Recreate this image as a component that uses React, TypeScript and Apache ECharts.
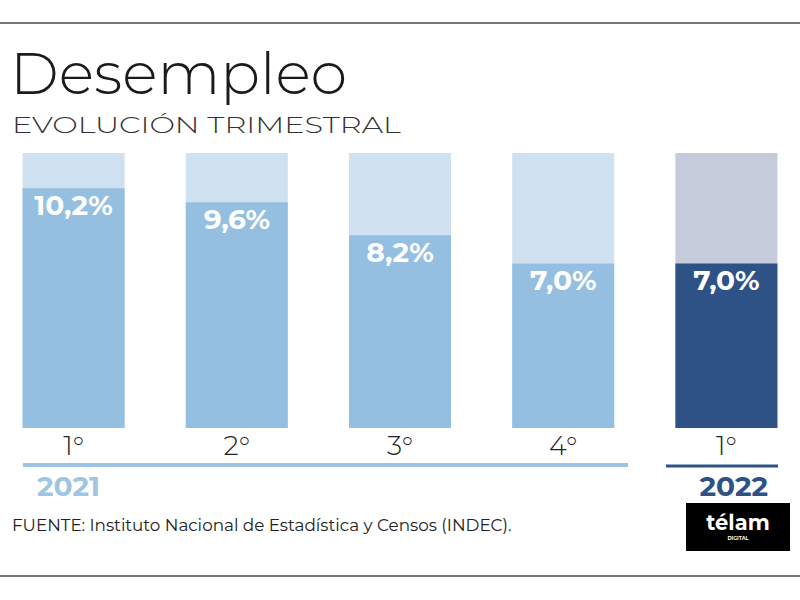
import React, { useEffect, useRef } from "react";
import * as echarts from "echarts";

const QUARTERS = ["1°", "2°", "3°", "4°", "1°"];
const YEARS = ["2021", "2021", "2021", "2021", "2022"];
const VALUES = [10.2, 9.6, 8.2, 7.0, 7.0];
const TRACK_MAX = 11.7;
const FG_COLORS = ["#95bfe1", "#95bfe1", "#95bfe1", "#95bfe1", "#2e5186"];
const BG_COLORS = ["#cfe1f0", "#cfe1f0", "#cfe1f0", "#cfe1f0", "#c6cbdb"];

const TITLE = "Desempleo";
const SUBTITLE = "EVOLUCIÓN TRIMESTRAL";
const SOURCE = "FUENTE: Instituto Nacional de Estadística y Censos (INDEC).";

const OX = 8; // the chart div starts 8px left of the page

export default function App() {
  const ref = useRef<HTMLDivElement>(null);
  useEffect(() => {
    if (!ref.current) return;
    const chart = echarts.init(ref.current, undefined, { renderer: "svg" });
    const cats = QUARTERS.map((q, i) => q + " " + YEARS[i] + " #" + i);
    const font = "Montserrat, 'Open Sans', Lato, sans-serif";
    chart.setOption({
      animation: false,
      backgroundColor: "#ffffff",
      grid: { left: 0, right: 0, top: 153, bottom: 172 },
      xAxis: {
        type: "category",
        data: cats,
        axisLine: { show: false },
        axisTick: { show: false },
        axisLabel: {
          margin: 4,
          fontSize: 27,
          fontWeight: 300,
          color: "#222222",
          fontFamily: font,
          formatter: (v: string) => v.split(" ")[0],
        },
      },
      yAxis: {
        type: "value",
        min: 0,
        max: TRACK_MAX,
        show: false,
        splitLine: { show: false },
      },
      series: [
        {
          type: "bar",
          barWidth: 102,
          barGap: "-100%",
          silent: true,
          data: VALUES.map((_, i) => ({
            value: TRACK_MAX,
            itemStyle: { color: BG_COLORS[i] },
          })),
        },
        {
          type: "bar",
          barWidth: 102,
          barGap: "-100%",
          data: VALUES.map((v, i) => ({
            value: v,
            itemStyle: { color: FG_COLORS[i] },
          })),
          label: {
            show: true,
            position: "insideTop",
            distance: 3,
            color: "#ffffff",
            fontSize: 28,
            fontWeight: "bold",
            fontFamily: font,
            formatter: (p: any) => p.value.toFixed(1).replace(".", ",") + "%",
          },
        },
      ],
      graphic: [
        { type: "line", shape: { x1: 0, y1: 23, x2: 816, y2: 23 }, style: { stroke: "#777777", lineWidth: 2 } },
        { type: "line", shape: { x1: 0, y1: 576, x2: 816, y2: 576 }, style: { stroke: "#777777", lineWidth: 2 } },
        {
          type: "text",
          left: 10 + OX,
          top: 43,
          style: { text: TITLE, fontSize: 59, fontWeight: 300, fill: "#1a1a1a", fontFamily: font },
        },
        {
          type: "text",
          left: 12 + OX,
          top: 113,
          scaleX: 1.32,
          style: { text: SUBTITLE, fontSize: 23, fontWeight: 300, fill: "#333333", fontFamily: font },
        },
        { type: "line", shape: { x1: 23 + OX, y1: 465, x2: 628 + OX, y2: 465 }, style: { stroke: "#9fc5e4", lineWidth: 4 } },
        { type: "line", shape: { x1: 666 + OX, y1: 466, x2: 778 + OX, y2: 466 }, style: { stroke: "#2e5186", lineWidth: 3 } },
        {
          type: "text",
          left: 37 + OX,
          top: 472,
          style: { text: YEARS[0], fontSize: 28, fontWeight: "bold", fill: "#9fc5e4", fontFamily: font },
        },
        {
          type: "text",
          right: 32 - OX + 16,
          top: 472,
          style: { text: YEARS[4], fontSize: 28, fontWeight: "bold", fill: "#2e5186", fontFamily: font },
        },
        {
          type: "text",
          left: 12 + OX,
          top: 516,
          style: { text: SOURCE, fontSize: 16.8, fill: "#222222", fontFamily: font },
        },
        { type: "rect", shape: { x: 686 + OX, y: 503, width: 104, height: 48 }, style: { fill: "#000000" } },
        {
          type: "text",
          x: 738 + OX,
          y: 522,
          style: { text: "télam", fontSize: 21, fontWeight: "bold", fill: "#ffffff", fontFamily: font, align: "center", verticalAlign: "middle" },
        },
        {
          type: "text",
          x: 738 + OX,
          y: 538,
          style: { text: "DIGITAL", fontSize: 5, fontWeight: "bold", fill: "#ffffff", fontFamily: font, align: "center", verticalAlign: "middle" },
        },
      ],
    });
    return () => chart.dispose();
  }, []);
  return (
    <div
      ref={ref}
      style={{ position: "fixed", left: -OX, top: 0, width: 816, height: 600 }}
    />
  );
}
